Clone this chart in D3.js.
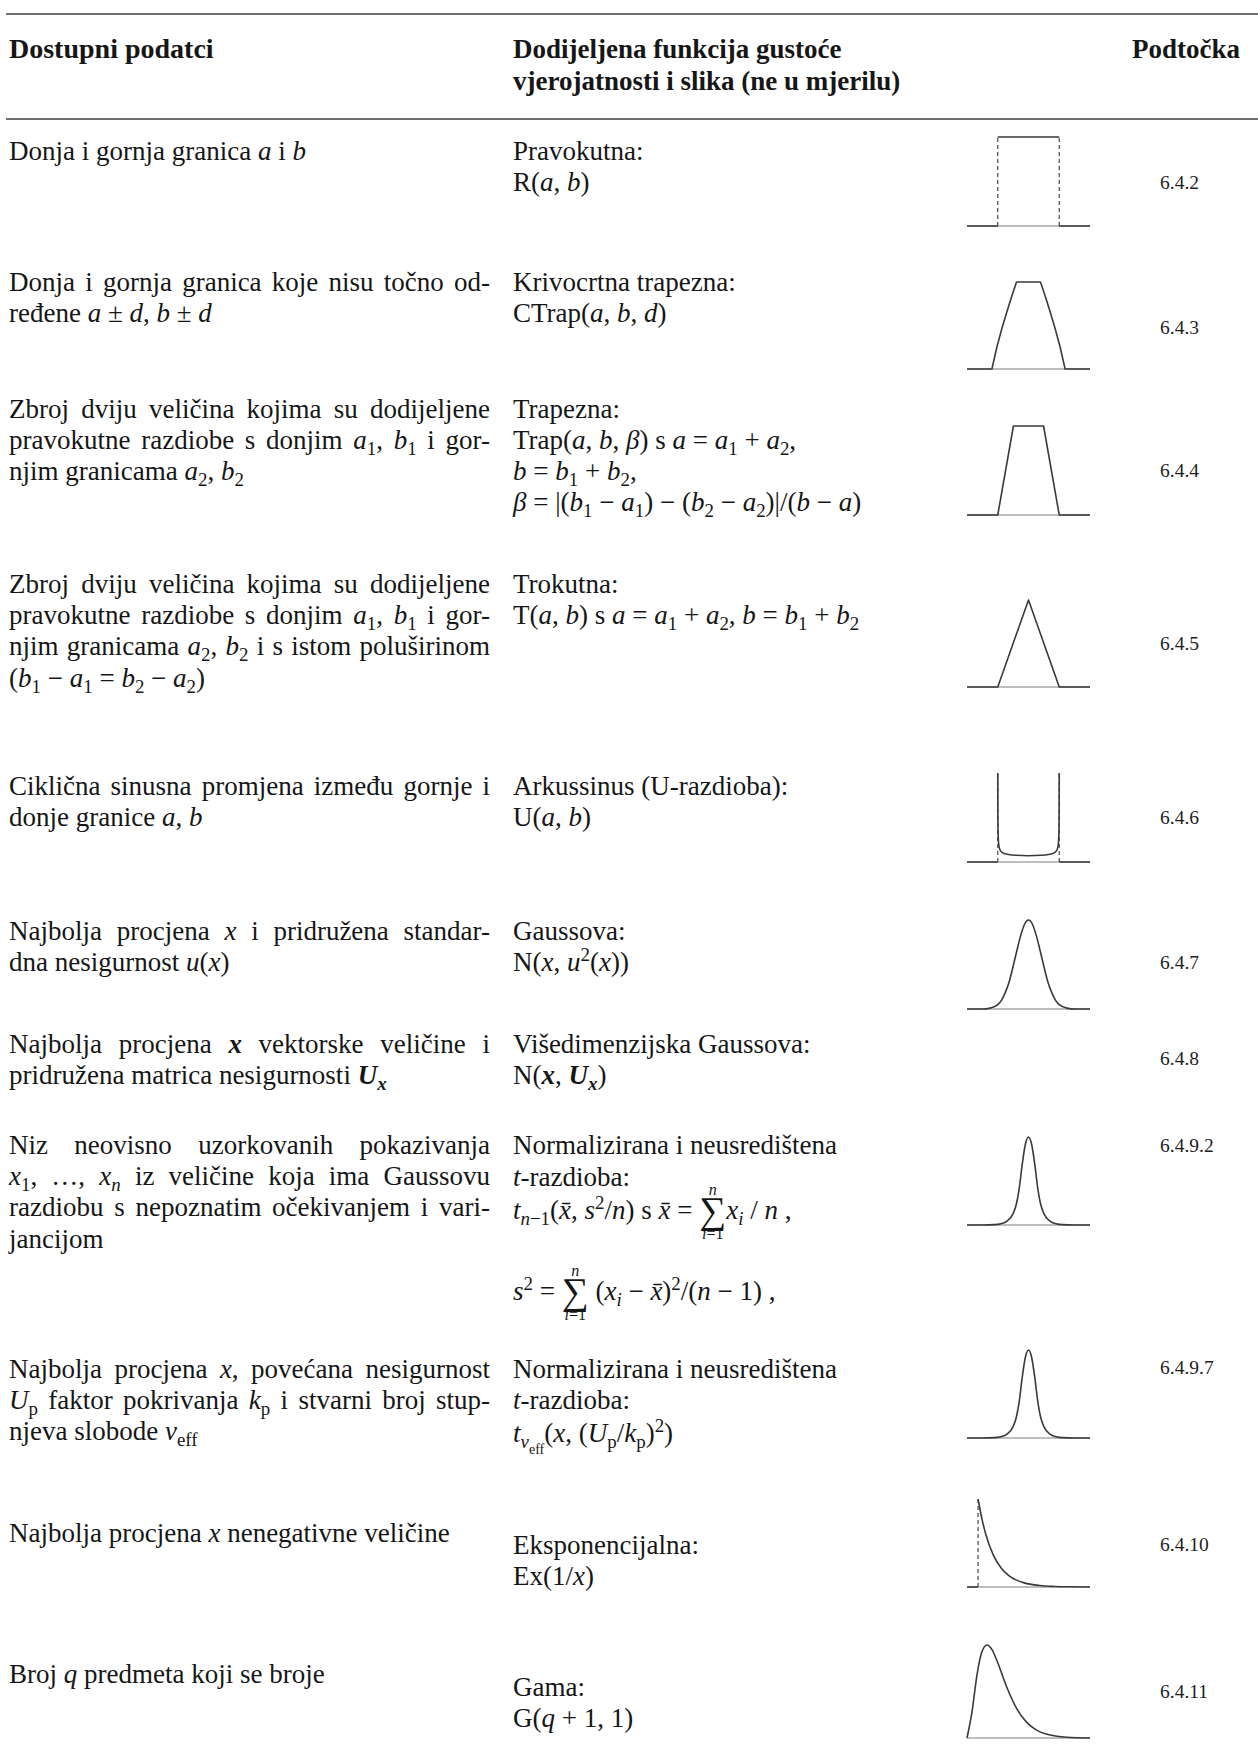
<!DOCTYPE html>
<html><head><meta charset="utf-8">
<script src="https://cdn.jsdelivr.net/npm/d3@7"></script>
<style>
body{margin:0;background:#fff}
svg{display:block}
text{font-family:"Liberation Serif","Times New Roman",serif;fill:#161616}
</style></head>
<body><svg id="c" width="1258" height="1747"></svg>
<script>
// ---------------- DATA ----------------
const headerLeft = ["Dostupni podatci"];
const headerMid = ["Dodijeljena funkcija gustoće", "vjerojatnosti i slika (ne u mjerilu)"];
const headerRight = ["Podtočka"];

const availableData = [
  ["Donja i gornja granica {i:a} i {i:b}"],
  ["Donja i gornja granica koje nisu točno od-", "ređene {i:a} ± {i:d}, {i:b} ± {i:d}"],
  ["Zbroj dviju veličina kojima su dodijeljene", "pravokutne razdiobe s donjim {i:a}{_:1}, {i:b}{_:1} i gor-", "njim granicama {i:a}{_:2}, {i:b}{_:2}"],
  ["Zbroj dviju veličina kojima su dodijeljene", "pravokutne razdiobe s donjim {i:a}{_:1}, {i:b}{_:1} i gor-", "njim granicama {i:a}{_:2}, {i:b}{_:2} i s istom poluširinom", "({i:b}{_:1} − {i:a}{_:1} = {i:b}{_:2} − {i:a}{_:2})"],
  ["Ciklična sinusna promjena između gornje i", "donje granice {i:a}, {i:b}"],
  ["Najbolja procjena {i:x} i pridružena standar-", "dna nesigurnost {i:u}({i:x})"],
  ["Najbolja procjena {bi:x} vektorske veličine i", "pridružena matrica nesigurnosti {bi:U}{_bi:x}"],
  ["Niz neovisno uzorkovanih pokazivanja", "{i:x}{_:1}, …, {i:x}{_i:n} iz veličine koja ima Gaussovu", "razdiobu s nepoznatim očekivanjem i vari-", "jancijom"],
  ["Najbolja procjena {i:x}, povećana nesigurnost", "{i:U}{_:p} faktor pokrivanja {i:k}{_:p} i stvarni broj stup-", "njeva slobode {i:ν}{_:eff}"],
  ["Najbolja procjena {i:x} nenegativne veličine"],
  ["Broj {i:q} predmeta koji se broje"]
];

const assignedPdf = [
  ["Pravokutna:", "R({i:a}, {i:b})"],
  ["Krivocrtna trapezna:", "CTrap({i:a}, {i:b}, {i:d})"],
  ["Trapezna:", "Trap({i:a}, {i:b}, {i:β}) s {i:a} = {i:a}{_:1} + {i:a}{_:2},", "{i:b} = {i:b}{_:1} + {i:b}{_:2},", "{i:β} = |({i:b}{_:1} − {i:a}{_:1}) − ({i:b}{_:2} − {i:a}{_:2})|/({i:b} − {i:a})"],
  ["Trokutna:", "T({i:a}, {i:b}) s {i:a} = {i:a}{_:1} + {i:a}{_:2}, {i:b} = {i:b}{_:1} + {i:b}{_:2}"],
  ["Arkussinus (U-razdioba):", "U({i:a}, {i:b})"],
  ["Gaussova:", "N({i:x}, {i:u}{^:2}({i:x}))"],
  ["Višedimenzijska Gaussova:", "N({bi:x}, {bi:U}{_bi:x})"],
  ["Normalizirana i neusredištena", "{i:t}-razdioba:", "{i:t}{_i:n}{_:−1}({i:x̄}, {i:s}{^:2}/{i:n}) s {i:x̄} = {S:∑}{i:x}{_i:i} / {i:n} ,", "{i:s}{^:2} = {S:∑} ({i:x}{_i:i} − {i:x̄}){^:2}/({i:n} − 1) ,"],
  ["Normalizirana i neusredištena", "{i:t}-razdioba:", "{i:t}{_i:ν}{__:eff}({i:x}, ({i:U}{_:p}/{i:k}{_:p}){^:2})"],
  ["Eksponencijalna:", "Ex(1/{i:x})"],
  ["Gama:", "G({i:q} + 1, 1)"]
];
const sumUpper = "{i:n}";
const sumLower = "{i:i}=1";

const subclauses = ["6.4.2", "6.4.3", "6.4.4", "6.4.5", "6.4.6", "6.4.7", "6.4.8", "6.4.9.2", "6.4.9.7", "6.4.10", "6.4.11"];

// sketch shapes (abstract units; NaN breaks the line)
const rectX = [-2, -1, NaN, -1, 1, NaN, 1, 2];
const rectY = [0, 0, NaN, 1, 1, NaN, 0, 0];
const rectDashX = [-1, -1, NaN, 1, 1];
const rectDashY = [0, 1, NaN, 0, 1];

const ctrapX = [-2, -1.19, -1.03, -0.87, -0.71, -0.55, -0.39, 0.39, 0.55, 0.71, 0.87, 1.03, 1.19, 2];
const ctrapY = [0, 0, 0.25, 0.46, 0.65, 0.83, 1, 1, 0.83, 0.65, 0.46, 0.25, 0, 0];

const trapX = [-2, -1, -0.49, 0.49, 1, 2];
const trapY = [0, 0, 1, 1, 0, 0];

const triX = [-2, -1, 0, 1, 2];
const triY = [0, 0, 1, 0, 0];

const arcX = [-2, -1, NaN, -1, -0.997, -0.99, -0.97, -0.92, -0.82, -0.65, -0.4, 0, 0.4, 0.65, 0.82, 0.92, 0.97, 0.99, 0.997, 1, NaN, 1, 2];
const arcY = [0, 0, NaN, 1, 0.6, 0.35, 0.2, 0.13, 0.1, 0.085, 0.075, 0.07, 0.075, 0.085, 0.1, 0.13, 0.2, 0.35, 0.6, 1, NaN, 0, 0];
const arcDashX = [-1, -1, NaN, 1, 1];
const arcDashY = [0, 1, NaN, 0, 1];

const gaussX = [-2, -1.5, -1.25, -1, -0.875, -0.75, -0.625, -0.5, -0.375, -0.25, -0.125, 0, 0.125, 0.25, 0.375, 0.5, 0.625, 0.75, 0.875, 1, 1.25, 1.5, 2];
const gaussY = [0, 0, 0.01, 0.05, 0.1, 0.19, 0.31, 0.48, 0.66, 0.83, 0.955, 1, 0.955, 0.83, 0.66, 0.48, 0.31, 0.19, 0.1, 0.05, 0.01, 0, 0];

const tX = [-2, -1.5, -1.1, -0.9, -0.7, -0.5, -0.4, -0.3, -0.2, -0.1, 0, 0.1, 0.2, 0.3, 0.4, 0.5, 0.7, 0.9, 1.1, 1.5, 2];
const tY = [0, 0, 0.004, 0.015, 0.045, 0.13, 0.23, 0.42, 0.7, 0.92, 1, 0.92, 0.7, 0.42, 0.23, 0.13, 0.045, 0.015, 0.004, 0, 0];

const expX = [-0.36, 0, NaN, 0, 0.125, 0.25, 0.5, 0.75, 1, 1.25, 1.5, 2, 2.5, 3, 3.64];
const expY = [0, 0, NaN, 1, 0.775, 0.6, 0.36, 0.217, 0.13, 0.078, 0.047, 0.017, 0.006, 0.002, 0];
const expDashX = [0, 0];
const expDashY = [0, 1];

const gammaX = [0, 0.5, 1, 1.5, 2, 2.5, 3, 4, 5, 6, 7, 8, 9, 10, 12.3];
const gammaY = [0, 0.28, 0.68, 0.93, 1, 0.95, 0.83, 0.54, 0.31, 0.165, 0.082, 0.04, 0.018, 0.008, 0];

// ---------------- LAYOUT ----------------
const FS = 27, LH = 31.2;
const xLeft = 9, xMid = 513, xNum = 1160, justifyW = 481;
const leftY = [160, 291, 418, 593, 795, 940, 1053, 1154, 1378, 1542, 1683];
const rightY = [[160,191],[291,322],[418,449,480,511],[593,624],[795,826],[940,971],[1053,1084],[1154,1186,1219,1300],[1378,1409,1442],[1554,1585],[1696,1727]];
const numY = [189, 334, 477, 650, 824, 969, 1065, 1152, 1374, 1551, 1698];

const sketches = [
  {x: rectX, y: rectY, dx: rectDashX, dy: rectDashY, dom: [-2, 2], base: 226, h: 89, smooth: false},
  {x: ctrapX, y: ctrapY, dom: [-2, 2], base: 369, h: 87, smooth: false},
  {x: trapX, y: trapY, dom: [-2, 2], base: 515, h: 89, smooth: false},
  {x: triX, y: triY, dom: [-2, 2], base: 687, h: 87, smooth: false},
  {x: arcX, y: arcY, dx: arcDashX, dy: arcDashY, dom: [-2, 2], base: 862, h: 89, smooth: true},
  {x: gaussX, y: gaussY, dom: [-2, 2], base: 1009, h: 89, smooth: true},
  null,
  {x: tX, y: tY, dom: [-2, 2], base: 1225, h: 88, smooth: true},
  {x: tX, y: tY, dom: [-2, 2], base: 1438, h: 88, smooth: true},
  {x: expX, y: expY, dx: expDashX, dy: expDashY, dom: [-0.36, 3.64], base: 1587, h: 88, smooth: true},
  {x: gammaX, y: gammaY, dom: [0, 12.3], base: 1738, h: 93, smooth: true}
];

// ---------------- RENDER ----------------
const svg = d3.select("#c");

function parse(str) {
  const out = []; const re = /\{([^:}]*):([^}]*)\}/g; let last = 0, m;
  while ((m = re.exec(str))) {
    if (m.index > last) out.push({t: str.slice(last, m.index), c: ""});
    out.push({t: m[2], c: m[1]});
    last = re.lastIndex;
  }
  if (last < str.length) out.push({t: str.slice(last), c: ""});
  return out;
}

function drawRich(parent, x, y, markup, o = {}) {
  const size = o.size || FS;
  const t = parent.append("text").attr("x", x).attr("y", y).attr("xml:space", "preserve")
    .attr("text-anchor", o.anchor || "start")
    .style("font-size", size + "px").style("font-weight", o.bold ? "bold" : "normal");
  let cur = 0, idx = 0, plain = "";
  const sums = [];
  parse(markup).forEach(s => {
    const c = s.c; let shift = 0, fs = size;
    if (c.startsWith("__")) { shift = size * 0.45; fs = size * 0.52; }
    else if (c.startsWith("_")) { shift = size * 0.22; fs = size * 0.7; }
    else if (c.startsWith("^")) { shift = -size * 0.36; fs = size * 0.7; }
    else if (c === "S") { shift = size * 0.16; fs = size * 1.4; }
    const bare = c.replace(/[_^]/g, "");
    t.append("tspan").attr("dy", (shift - cur).toFixed(2))
      .style("font-size", fs + "px")
      .style("font-style", bare.includes("i") ? "italic" : "normal")
      .style("font-weight", (bare.includes("b") || o.bold) ? "bold" : "normal")
      .text(s.t);
    if (c === "S") sums.push(idx);
    idx += s.t.length; plain += s.t; cur = shift;
  });
  if (o.justify) {
    const w = t.node().getComputedTextLength();
    const n = (plain.match(/ /g) || []).length;
    if (n) t.style("word-spacing", ((o.justify - w) / n).toFixed(3) + "px");
  }
  sums.forEach(i => {
    const e = t.node().getExtentOfChar(i);
    const cx = e.x + e.width / 2;
    drawRich(parent, cx, y - 24, sumUpper, {size: 16, anchor: "middle"});
    drawRich(parent, cx, y + 20, sumLower, {size: 16, anchor: "middle"});
  });
  return t;
}

// rules
const rules = svg.append("g").attr("stroke", "#707070").attr("stroke-width", 2);
rules.append("line").attr("x1", 6).attr("x2", 1258).attr("y1", 14).attr("y2", 14);
rules.append("line").attr("x1", 6).attr("x2", 1258).attr("y1", 119).attr("y2", 119);

// header
const hg = svg.append("g");
headerLeft.forEach((l, k) => drawRich(hg, xLeft, 58 + k * 32, l, {bold: true, size: 28}));
headerMid.forEach((l, k) => drawRich(hg, xMid, 58 + k * 32, l, {bold: true, size: 27}));
headerRight.forEach((l, k) => drawRich(hg, 1132, 58 + k * 32, l, {bold: true, size: 27}));

// body text
const body = svg.append("g");
availableData.forEach((lines, r) => {
  lines.forEach((l, k) => drawRich(body, xLeft, leftY[r] + k * LH, l,
    {justify: k < lines.length - 1 ? justifyW : 0}));
});
assignedPdf.forEach((lines, r) => {
  lines.forEach((l, k) => drawRich(body, xMid, rightY[r][k], l));
});
subclauses.forEach((s, r) => {
  body.append("text").attr("x", xNum).attr("y", numY[r]).style("font-size", "19.5px")
    .style("fill", "#1e1e1e").text(s);
});

// sketches
const sg = svg.append("g").attr("fill", "none");
sketches.forEach(sk => {
  if (!sk) return;
  const xs = d3.scaleLinear().domain(sk.dom).range([967, 1090]);
  const ys = d3.scaleLinear().domain([0, 1]).range([sk.base, sk.base - sk.h]);
  const g = sg.append("g");
  g.append("line").attr("x1", xs(sk.dom[0])).attr("x2", xs(sk.dom[1]))
    .attr("y1", ys(0)).attr("y2", ys(0)).attr("stroke", "#a8a8a8").attr("stroke-width", 1.3);
  if (sk.dx) {
    const dd = sk.dx.map((v, i) => ({x: v, y: sk.dy[i]}));
    g.append("path").attr("d", d3.line().defined(d => !isNaN(d.x)).x(d => xs(d.x)).y(d => ys(d.y))(dd))
      .attr("stroke", "#555").attr("stroke-width", 1.3).attr("stroke-dasharray", "4,3");
  }
  const pts = sk.x.map((v, i) => ({x: v, y: sk.y[i]}));
  const line = d3.line().defined(d => !isNaN(d.x)).x(d => xs(d.x)).y(d => ys(d.y))
    .curve(sk.smooth ? d3.curveMonotoneX : d3.curveLinear);
  g.append("path").attr("d", line(pts)).attr("stroke", "#3a3a3a").attr("stroke-width", 1.6)
    .attr("stroke-linejoin", "round");
});
</script></body></html>
